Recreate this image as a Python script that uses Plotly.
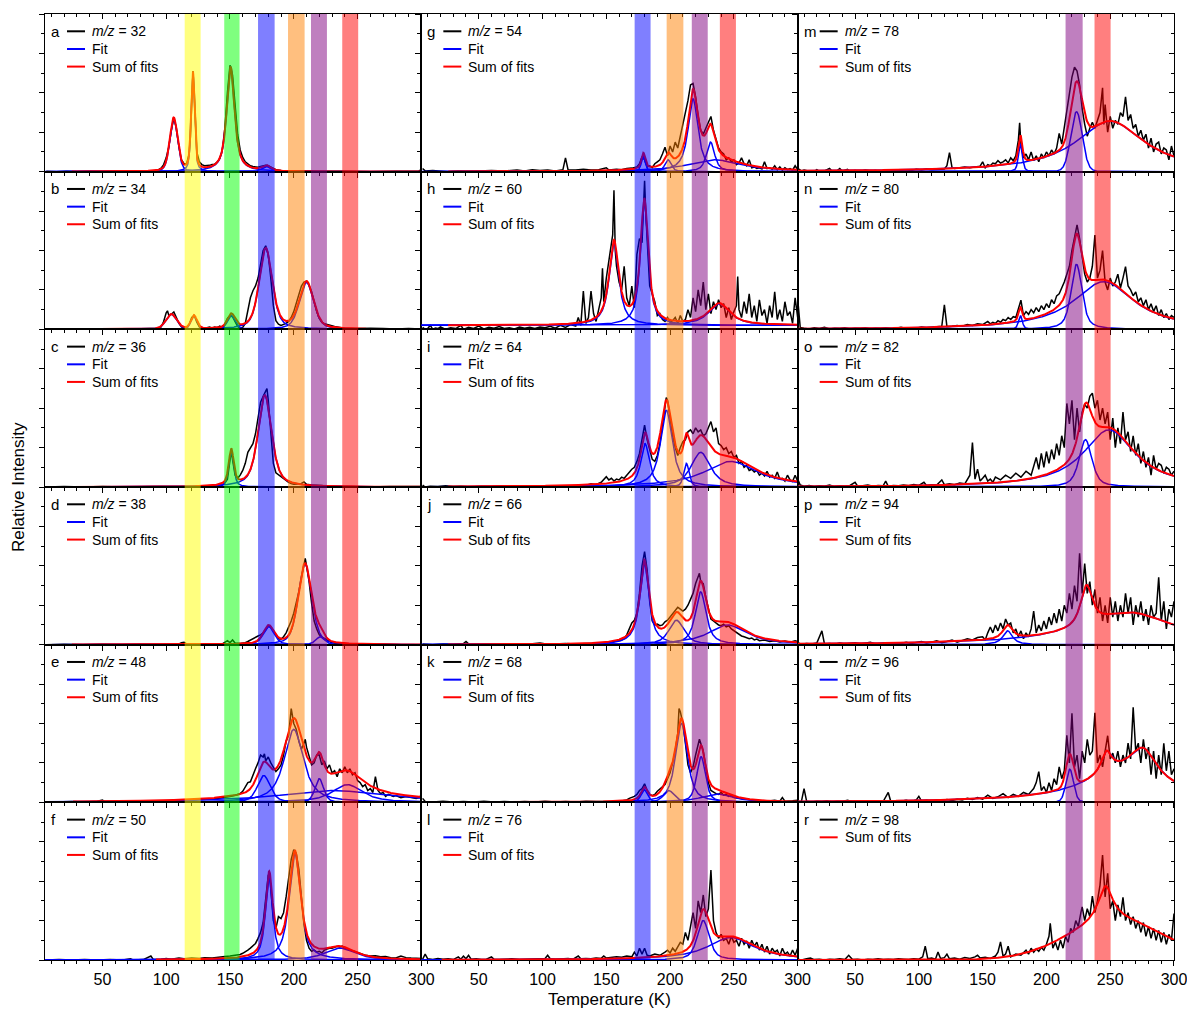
import numpy as np
import plotly.graph_objects as go

# ---------------------------------------------------------------------------
# Panel labels (column-major: a-f, g-l, m-r)
# ---------------------------------------------------------------------------
LETTERS = ["a", "b", "c", "d", "e", "f", "g", "h", "i",
           "j", "k", "l", "m", "n", "o", "p", "q", "r"]
MZ = [32, 34, 36, 38, 48, 50, 54, 60, 64, 66, 68, 76, 78, 80, 82, 94, 96, 98]
SUM_LABELS = ["Sum of fits", "Sum of fits", "Sum of fits", "Sum of fits",
              "Sum of fits", "Sum of fits", "Sum of fits", "Sum of fits",
              "Sum of fits", "Sub of fits", "Sum of fits", "Sum of fits",
              "Sum of fits", "Sum of fits", "Sum of fits", "Sum of fits",
              "Sum of fits", "Sum of fits"]
SHOW_FIT = [True] * 17 + [False]

# temperature where the summed fit starts, and constant background of the fit
FIT_START = [26, 26, 26, 26, 27, 92, 26, 26, 26, 26, 26, 21, 5, 5, 5, 5, 5, 5]
FIT_OFFSET = [0, 0, 0, 0, 0, 0, 0, 0.1, 0, 0, 0, 0, 0, 0, 0, 0, 0, 0]

# desorption bands (K) per column
BANDS_COL1 = [(114.5, 127.0, "#ffff00"), (145.5, 157.5, "#00ff00"),
              (172.0, 185.0, "#0000ff"), (195.5, 208.5, "#ff8000"),
              (213.5, 226.0, "#800080"), (238.0, 250.5, "#ff0000")]
BANDS_COL2 = [(172.2, 184.7, "#0000ff"), (197.3, 210.4, "#ff8000"),
              (217.0, 229.5, "#800080"), (239.0, 251.6, "#ff0000")]
BANDS_COL3 = [(215.0, 228.4, "#800080"), (237.7, 250.3, "#ff0000")]

# ---------------------------------------------------------------------------
# Measured TPD traces: (temperature K, relative intensity)
# ---------------------------------------------------------------------------
SCAN_A = [(6,0.01),(14,0.0),(22,0.01),(30,0.0),(40,0.01),(50,0.0),(60,0.01),(70,0.0),(80,0.01),(88,0.01),
          (92,0.03),(94,0.05),(96,0.09),(98,0.18),(100,0.35),(102,0.62),(104,1.05),(106,1.36),(108,1.1),(110,0.62),
          (112,0.3),(114,0.2),(116,0.2),(118,0.45),(119,0.9),(120,2.0),(121,2.55),(122,2.0),(123,1.0),(124,0.5),
          (126,0.25),(128,0.18),(130,0.15),(132,0.15),(134,0.16),(136,0.18),(138,0.19),(140,0.24),(142,0.33),(144,0.55),
          (146,1.1),(148,2.0),(150,2.7),(152,2.45),(154,1.6),(156,0.95),(158,0.55),(160,0.36),(162,0.25),(164,0.19),
          (166,0.15),(168,0.13),(170,0.12),(172,0.11),(174,0.13),(176,0.14),(178,0.16),(180,0.15),(182,0.12),(184,0.08),
          (186,0.05),(190,0.03),(200,0.02),(220,0.01),(240,0.01),(260,0.0),(280,0.01),(298,0.02),(300,0.05)]
SCAN_B = [(6,0.0),(16,0.01),(26,0.0),(36,0.01),(46,0.0),(56,0.01),(66,0.0),(76,0.01),(86,0.01),(92,0.02),
          (94,0.03),(96,0.06),(98,0.2),(100,0.42),(101,0.47),(102,0.36),(104,0.38),(106,0.44),(108,0.3),(110,0.15),
          (112,0.06),(114,0.03),(116,0.04),(118,0.12),(120,0.3),(122,0.35),(124,0.18),(126,0.06),(128,0.03),(130,0.02),
          (132,0.04),(134,0.06),(136,0.03),(138,0.06),(140,0.04),(142,0.08),(144,0.04),(146,0.12),(148,0.28),(150,0.35),
          (152,0.32),(154,0.2),(156,0.07),(158,0.03),(160,0.05),(162,0.15),(164,0.45),(166,0.8),(168,0.98),(170,1.1),
          (172,1.3),(174,1.7),(176,2.0),(178,2.12),(180,1.9),(182,1.3),(184,0.6),(186,0.22),(188,0.13),(190,0.1),
          (192,0.12),(194,0.15),(196,0.2),(198,0.3),(200,0.45),(202,0.65),(204,0.9),(206,1.1),(208,1.2),(210,1.22),
          (212,1.12),(214,0.95),(216,0.7),(218,0.45),(220,0.28),(222,0.18),(224,0.14),(226,0.12),(228,0.1),(230,0.09),
          (232,0.07),(236,0.05),(240,0.03),(250,0.02),(260,0.03),(270,0.02),(280,0.01),(290,0.02),(300,0.01)]
SCAN_C = [(6,0.0),(20,0.01),(35,0.0),(50,0.01),(65,0.0),(80,0.01),(95,0.01),(110,0.01),(125,0.02),(135,0.02),
          (140,0.03),(144,0.05),(146,0.1),(148,0.2),(150,0.7),(151,0.92),(152,0.7),(154,0.3),(156,0.22),(158,0.3),
          (160,0.42),(162,0.6),(164,0.88),(166,0.98),(168,1.1),(170,1.35),(172,1.8),(174,2.15),(176,2.3),(178,2.42),
          (179,2.5),(180,2.2),(182,1.4),(184,0.6),(186,0.36),(188,0.31),(190,0.28),(192,0.22),(194,0.16),(196,0.12),
          (198,0.09),(200,0.07),(202,0.07),(204,0.08),(206,0.09),(208,0.13),(210,0.07),(214,0.05),(218,0.05),(222,0.04),
          (226,0.02),(232,0.01),(245,0.01),(260,0.0),(275,0.01),(290,0.0),(300,0.01)]
SCAN_D = [(6,0.0),(20,0.01),(35,0.0),(50,0.01),(65,0.0),(80,0.01),(95,0.0),(105,0.01),(110,0.02),(112,0.05),
          (114,0.06),(116,0.02),(122,0.01),(130,0.02),(138,0.01),(144,0.02),(148,0.1),(150,0.05),(152,0.12),(154,0.04),
          (158,0.03),(162,0.05),(164,0.08),(166,0.12),(168,0.15),(170,0.18),(172,0.22),(174,0.25),(176,0.3),(178,0.38),
          (180,0.47),(182,0.45),(184,0.35),(186,0.22),(188,0.15),(190,0.14),(192,0.2),(194,0.3),(196,0.45),(198,0.6),
          (200,0.8),(202,1.05),(204,1.35),(206,1.7),(208,2.1),(209,2.19),(210,2.0),(212,1.6),(214,1.05),(216,0.6),
          (218,0.4),(220,0.25),(222,0.2),(224,0.15),(226,0.12),(228,0.08),(230,0.05),(234,0.03),(240,0.01),(255,0.0),
          (270,0.01),(285,0.0),(300,0.0)]
SCAN_E = [(6,0.0),(16,0.01),(26,0.02),(36,0.01),(46,0.03),(50,0.06),(52,0.02),(62,0.02),(72,0.03),(82,0.03),
          (92,0.04),(102,0.04),(112,0.05),(122,0.06),(132,0.08),(140,0.1),(146,0.12),(150,0.15),(154,0.18),(156,0.2),
          (158,0.22),(160,0.28),(162,0.4),(164,0.5),(166,0.52),(168,0.7),(170,0.85),(172,1.0),(174,1.2),(176,1.15),
          (177,1.23),(178,1.05),(180,1.15),(182,1.0),(184,0.9),(186,0.78),(188,0.85),(190,0.95),(192,1.2),(194,1.55),
          (196,1.7),(198,2.38),(200,2.0),(202,1.85),(204,1.55),(206,1.35),(208,1.5),(209,1.6),(210,1.4),(212,1.2),
          (214,0.95),(216,1.0),(218,1.2),(220,1.2),(222,0.95),(224,1.05),(226,0.85),(228,0.95),(230,0.75),(232,0.8),
          (234,0.65),(236,0.85),(238,0.75),(240,0.9),(242,0.75),(244,0.85),(246,0.7),(248,0.75),(250,0.55),(252,0.5),
          (254,0.4),(256,0.45),(258,0.3),(260,0.35),(262,0.25),(264,0.65),(266,0.3),(268,0.22),(270,0.25),(272,0.15),
          (274,0.2),(276,0.18),(278,0.15),(280,0.17),(284,0.12),(288,0.15),(292,0.12),(296,0.1),(298,0.12),(300,0.18)]
SCAN_F = [(6,0.0),(16,0.01),(26,0.0),(36,0.01),(46,0.0),(56,0.01),(66,0.0),(72,0.03),(74,0.0),(82,0.01),
          (88,0.1),(90,0.01),(96,0.02),(100,0.04),(104,0.02),(110,0.05),(114,0.03),(120,0.05),(126,0.04),(130,0.06),
          (136,0.05),(140,0.07),(146,0.09),(150,0.1),(154,0.12),(158,0.14),(160,0.17),(162,0.2),(164,0.25),(166,0.3),
          (168,0.35),(170,0.42),(172,0.55),(174,0.7),(176,0.95),(178,1.5),(180,2.15),(181,2.2),(182,1.8),(184,1.0),
          (186,0.8),(188,1.1),(190,1.05),(192,1.2),(194,1.6),(196,2.1),(198,2.55),(200,2.8),(202,2.7),(204,2.3),
          (206,1.6),(208,0.9),(210,0.5),(212,0.3),(214,0.22),(216,0.25),(218,0.2),(220,0.22),(222,0.18),(224,0.25),
          (226,0.28),(228,0.3),(230,0.3),(232,0.32),(234,0.35),(236,0.33),(238,0.35),(240,0.3),(244,0.25),(248,0.2),
          (252,0.15),(256,0.12),(260,0.1),(264,0.11),(268,0.08),(272,0.09),(276,0.06),(280,0.05),(284,0.1),(288,0.06),
          (292,0.05),(296,0.04),(300,0.04)]
SCAN_G = [(6,0.08),(8,0.02),(14,0.03),(20,0.02),(26,0.0),(34,0.02),(40,0.01),(50,0.02),(60,0.03),(70,0.02),
          (80,0.04),(86,0.02),(92,0.05),(98,0.03),(104,0.04),(110,0.02),(116,0.05),(118,0.35),(120,0.05),(126,0.04),
          (132,0.06),(138,0.04),(144,0.05),(150,0.1),(152,0.04),(158,0.06),(162,0.05),(166,0.08),(170,0.09),(174,0.12),
          (176,0.2),(178,0.38),(180,0.3),(182,0.12),(184,0.15),(186,0.1),(188,0.2),(190,0.25),(192,0.3),(194,0.45),
          (196,0.62),(198,0.4),(200,0.65),(202,0.5),(204,0.75),(206,0.6),(208,0.9),(210,1.2),(212,1.5),(214,1.8),
          (216,2.2),(218,2.24),(220,1.9),(222,1.4),(224,1.05),(226,0.95),(228,1.1),(230,1.25),(232,1.4),(234,1.05),
          (236,0.8),(238,0.6),(240,0.5),(242,0.45),(244,0.3),(246,0.35),(248,0.25),(250,0.3),(252,0.18),(254,0.22),
          (256,0.35),(258,0.2),(260,0.15),(262,0.3),(264,0.1),(266,0.12),(268,0.08),(270,0.1),(272,0.07),(274,0.25),
          (276,0.08),(278,0.1),(280,0.06),(282,0.15),(284,0.05),(286,0.12),(288,0.04),(290,0.1),(292,0.05),(294,0.08),
          (296,0.04),(298,0.15),(300,0.05)]
SCAN_H = [(6,0.05),(8,0.0),(10,0.02),(12,0.1),(14,0.0),(16,0.03),(18,0.02),(20,0.06),(24,0.0),(28,0.04),
          (32,0.02),(36,0.1),(38,0.0),(42,0.05),(46,0.02),(50,0.08),(54,0.01),(58,0.05),(62,0.03),(66,0.07),
          (70,0.02),(74,0.04),(78,0.01),(82,0.06),(86,0.03),(90,0.05),(94,0.02),(98,0.06),(102,0.04),(106,0.08),
          (110,0.03),(114,0.1),(118,0.05),(122,0.12),(126,0.08),(128,0.3),(130,0.1),(132,0.97),(134,0.15),(136,0.3),
          (138,0.97),(140,0.4),(142,0.2),(144,0.55),(146,0.8),(147,1.55),(148,0.7),(150,1.3),(152,1.7),(154,2.1),
          (155,2.4),(156,3.53),(157,2.0),(158,1.6),(160,1.2),(162,1.0),(164,1.6),(166,0.8),(168,0.6),(170,1.1),
          (172,0.55),(174,1.9),(176,2.3),(178,2.2),(179,3.2),(180,3.77),(181,2.9),(182,2.2),(184,1.1),(186,0.9),
          (188,0.7),(190,0.35),(192,0.4),(194,0.25),(196,0.2),(198,0.3),(200,0.18),(202,0.22),(204,0.3),(206,0.15),
          (208,0.35),(210,0.2),(212,0.25),(214,0.5),(216,0.3),(218,0.8),(220,0.45),(222,1.0),(224,0.6),(226,1.2),
          (228,0.5),(230,0.9),(232,0.4),(234,0.7),(236,0.5),(238,0.75),(240,0.55),(242,0.65),(244,0.3),(246,0.55),
          (248,0.25),(250,0.45),(252,0.6),(253,1.34),(254,0.5),(256,0.3),(258,0.7),(260,0.4),(262,0.9),(264,0.3),
          (266,0.6),(268,0.2),(270,0.75),(272,0.35),(274,0.5),(276,0.15),(278,0.6),(280,0.3),(282,0.95),(284,0.25),
          (286,0.5),(288,0.2),(290,0.7),(292,0.35),(294,0.45),(296,0.15),(298,0.8),(300,0.3)]
SCAN_I = [(6,0.05),(8,0.0),(12,0.02),(18,0.01),(24,0.03),(30,0.01),(36,0.02),(44,0.0),(52,0.02),(60,0.01),
          (68,0.03),(76,0.01),(84,0.02),(92,0.01),(100,0.03),(108,0.02),(116,0.03),(124,0.04),(130,0.05),(134,0.04),
          (138,0.08),(142,0.06),(146,0.12),(148,0.2),(150,0.26),(152,0.18),(154,0.22),(156,0.15),(158,0.2),(160,0.18),
          (162,0.25),(164,0.22),(166,0.3),(168,0.35),(170,0.45),(172,0.5),(174,0.65),(176,0.85),(178,1.2),(180,1.57),
          (182,1.2),(184,0.95),(186,0.7),(188,0.65),(190,0.8),(192,1.1),(194,1.6),(196,2.15),(197,2.27),(198,2.2),
          (200,1.7),(202,1.3),(204,1.0),(206,0.8),(208,1.0),(210,1.15),(212,1.2),(214,1.4),(216,1.45),(218,1.35),
          (220,1.5),(222,1.4),(224,1.45),(226,1.3),(228,1.35),(230,1.5),(232,1.66),(234,1.4),(236,1.5),(238,1.1),
          (240,1.05),(242,0.95),(244,1.0),(246,0.85),(248,0.9),(250,0.75),(252,0.8),(254,0.6),(256,0.65),(258,0.5),
          (260,0.55),(262,0.42),(264,0.45),(266,0.38),(268,0.42),(270,0.3),(272,0.35),(274,0.28),(276,0.4),(278,0.25),
          (280,0.3),(282,0.22),(284,0.38),(286,0.2),(288,0.22),(290,0.15),(292,0.3),(294,0.18),(296,0.14),(298,0.3),
          (300,0.15)]
SCAN_J = [(6,0.02),(14,0.0),(22,0.02),(30,0.01),(38,0.03),(40,0.08),(42,0.02),(50,0.01),(58,0.02),(66,0.01),
          (74,0.02),(82,0.01),(90,0.02),(98,0.04),(104,0.01),(110,0.02),(118,0.03),(126,0.02),(134,0.03),(142,0.04),
          (148,0.06),(152,0.05),(156,0.08),(160,0.1),(162,0.12),(164,0.15),(166,0.25),(168,0.4),(170,0.55),(172,0.62),
          (174,0.8),(176,1.3),(178,2.0),(180,2.36),(182,1.9),(184,1.1),(186,0.6),(188,0.5),(190,0.52),(192,0.48),
          (194,0.5),(196,0.58),(198,0.62),(200,0.7),(202,0.78),(204,0.85),(206,0.95),(208,0.9),(210,0.85),(212,0.9),
          (214,1.0),(216,1.15),(218,1.3),(220,1.55),(222,1.7),(223,1.81),(224,1.6),(226,1.55),(228,1.2),(230,0.9),
          (232,0.65),(234,0.6),(236,0.55),(238,0.5),(240,0.48),(242,0.52),(244,0.45),(246,0.48),(248,0.4),(250,0.35),
          (252,0.3),(254,0.25),(256,0.22),(258,0.2),(260,0.18),(262,0.15),(264,0.17),(266,0.12),(268,0.14),(270,0.1),
          (274,0.12),(278,0.08),(282,0.1),(286,0.07),(290,0.09),(294,0.06),(298,0.1),(300,0.08)]
SCAN_K = [(6,0.1),(8,0.02),(14,0.01),(22,0.03),(30,0.01),(38,0.02),(46,0.01),(54,0.03),(62,0.01),(70,0.02),
          (78,0.01),(86,0.02),(94,0.01),(102,0.03),(110,0.01),(118,0.02),(126,0.01),(134,0.03),(142,0.02),(150,0.03),
          (156,0.02),(160,0.03),(164,0.05),(166,0.06),(168,0.1),(170,0.12),(172,0.15),(174,0.2),(176,0.3),(178,0.35),
          (180,0.47),(182,0.3),(184,0.2),(186,0.17),(188,0.2),(190,0.28),(192,0.33),(194,0.4),(196,0.45),(198,0.6),
          (200,0.75),(202,1.0),(204,1.3),(206,1.75),(207,2.38),(208,2.3),(210,2.0),(212,1.5),(214,0.95),(216,0.75),
          (218,0.9),(220,1.2),(222,1.45),(223,1.6),(224,1.5),(226,1.3),(228,0.9),(230,0.5),(232,0.3),(234,0.25),
          (236,0.22),(238,0.2),(240,0.25),(242,0.18),(244,0.2),(246,0.15),(248,0.17),(250,0.12),(254,0.1),(258,0.08),
          (262,0.06),(266,0.05),(270,0.04),(276,0.03),(282,0.05),(286,0.03),(288,0.12),(290,0.03),(296,0.04),(300,0.05)]
SCAN_L = [(6,0.02),(8,0.15),(10,0.03),(14,0.01),(18,0.04),(22,0.02),(26,0.03),(30,0.01),(34,0.08),(36,0.02),
          (38,0.1),(40,0.03),(42,0.12),(44,0.02),(48,0.03),(52,0.01),(56,0.02),(60,0.08),(62,0.02),(66,0.01),
          (70,0.02),(76,0.03),(82,0.01),(88,0.02),(94,0.03),(98,0.02),(102,0.04),(104,0.12),(106,0.03),(110,0.02),
          (116,0.03),(120,0.04),(124,0.02),(128,0.1),(130,0.03),(134,0.04),(138,0.03),(142,0.05),(146,0.04),(148,0.1),
          (150,0.05),(154,0.06),(158,0.08),(162,0.07),(166,0.1),(170,0.08),(172,0.2),(174,0.1),(176,0.3),(178,0.15),
          (180,0.3),(182,0.12),(184,0.1),(188,0.15),(192,0.12),(196,0.2),(198,0.25),(200,0.18),(202,0.3),(204,0.22),
          (206,0.35),(208,0.45),(210,0.4),(212,0.7),(214,0.5),(216,0.9),(218,1.2),(220,0.8),(222,1.5),(224,1.2),
          (226,1.65),(228,1.1),(230,1.3),(232,2.28),(234,1.0),(236,0.7),(238,0.55),(240,0.65),(242,0.5),(244,0.55),
          (246,0.4),(248,0.6),(250,0.45),(252,0.5),(254,0.35),(256,0.55),(258,0.4),(260,0.48),(262,0.3),(264,0.5),
          (266,0.35),(268,0.45),(270,0.25),(272,0.4),(274,0.2),(276,0.35),(278,0.15),(280,0.3),(282,0.2),(284,0.25),
          (286,0.1),(288,0.3),(290,0.15),(292,0.2),(294,0.1),(296,0.25),(298,0.12),(300,0.3)]
SCAN_M = [(5,0.08),(8,0.02),(10,0.04),(14,0.01),(18,0.0),(20,0.05),(22,0.01),(26,0.02),(30,0.08),(32,0.01),
          (36,0.03),(38,0.08),(40,0.01),(44,0.06),(46,0.01),(50,0.03),(54,0.01),(58,0.04),(62,0.02),(66,0.03),
          (70,0.01),(74,0.03),(78,0.02),(82,0.04),(86,0.03),(90,0.05),(94,0.03),(98,0.06),(102,0.04),(106,0.07),
          (110,0.05),(114,0.06),(118,0.08),(120,0.07),(122,0.15),(124,0.48),(126,0.1),(128,0.08),(132,0.1),(136,0.12),
          (140,0.1),(144,0.12),(148,0.14),(150,0.25),(152,0.1),(154,0.18),(156,0.15),(158,0.22),(160,0.2),(162,0.28),
          (164,0.22),(166,0.25),(168,0.3),(170,0.22),(172,0.35),(174,0.28),(176,0.4),(178,0.8),(179,1.24),(180,0.7),
          (182,0.35),(184,0.45),(186,0.3),(188,0.5),(190,0.28),(192,0.4),(194,0.25),(196,0.45),(198,0.35),(200,0.5),
          (202,0.4),(204,0.55),(206,0.45),(208,0.6),(210,0.97),(212,0.7),(214,1.1),(216,1.5),(218,1.9),(220,2.4),
          (222,2.65),(224,2.55),(226,2.2),(228,1.6),(230,1.2),(232,0.9),(234,1.1),(236,1.25),(238,1.1),(240,1.3),
          (242,1.5),(244,2.13),(245,1.2),(246,1.7),(248,1.0),(250,1.4),(252,1.1),(254,1.3),(256,1.2),(258,1.5),
          (260,1.4),(262,1.9),(264,1.3),(266,1.45),(268,1.1),(270,1.2),(272,0.9),(274,1.05),(276,0.8),(278,0.95),
          (280,0.6),(282,0.85),(284,0.5),(286,0.7),(288,0.75),(290,0.45),(292,0.6),(294,0.55),(296,0.3),(298,0.65),
          (300,0.4)]
SCAN_N = [(5,0.78),(7,0.05),(10,0.03),(14,0.01),(18,0.04),(22,0.02),(26,0.05),(30,0.01),(34,0.03),(38,0.02),
          (42,0.04),(46,0.01),(50,0.03),(54,0.02),(58,0.04),(62,0.01),(66,0.03),(70,0.02),(74,0.04),(78,0.02),
          (82,0.03),(86,0.05),(90,0.02),(94,0.04),(98,0.03),(102,0.06),(106,0.04),(110,0.05),(114,0.06),(118,0.08),
          (120,0.62),(122,0.07),(126,0.08),(130,0.1),(134,0.08),(138,0.12),(142,0.1),(146,0.14),(150,0.12),(154,0.2),
          (156,0.14),(158,0.18),(160,0.15),(162,0.22),(164,0.18),(166,0.25),(168,0.22),(170,0.3),(172,0.25),(174,0.32),
          (176,0.3),(178,0.5),(180,0.74),(182,0.35),(184,0.45),(186,0.38),(188,0.5),(190,0.42),(192,0.55),(194,0.45),
          (196,0.6),(198,0.5),(200,0.65),(202,0.55),(204,0.75),(206,0.65),(208,0.85),(210,0.9),(212,1.05),(214,1.2),
          (216,1.4),(218,1.6),(220,2.0),(222,2.3),(224,2.65),(226,2.3),(228,1.8),(230,1.4),(232,1.2),(234,1.3),
          (236,1.6),(238,2.39),(240,1.3),(242,1.5),(244,2.0),(246,1.2),(248,1.0),(250,1.3),(252,1.1),(254,1.2),
          (256,1.4),(258,1.05),(260,1.3),(262,1.59),(264,1.1),(266,1.0),(268,0.85),(270,0.95),(272,0.7),(274,0.8),
          (276,0.6),(278,0.75),(280,0.5),(282,0.65),(284,0.45),(286,0.6),(288,0.35),(290,0.5),(292,0.3),(294,0.4),
          (296,0.25),(298,0.35),(300,0.3)]
SCAN_O = [(5,0.2),(7,0.05),(10,0.02),(14,0.04),(18,0.01),(22,0.03),(26,0.02),(30,0.05),(34,0.01),(38,0.03),
          (42,0.02),(46,0.04),(50,0.12),(52,0.02),(56,0.03),(60,0.05),(64,0.02),(68,0.04),(72,0.03),(74,0.15),
          (76,0.02),(80,0.04),(84,0.03),(88,0.05),(92,0.03),(96,0.06),(100,0.04),(104,0.12),(106,0.04),(110,0.06),
          (114,0.05),(118,0.18),(120,0.06),(124,0.08),(128,0.06),(132,0.1),(136,0.08),(140,0.3),(142,1.13),(144,0.2),
          (146,0.45),(148,0.15),(150,0.22),(152,0.3),(154,0.15),(156,0.2),(158,0.12),(160,0.25),(164,0.18),(168,0.3),
          (172,0.22),(176,0.35),(180,0.25),(184,0.4),(188,0.3),(190,0.55),(192,0.75),(194,0.45),(196,0.85),(198,0.5),
          (200,0.9),(202,0.6),(204,0.95),(206,0.7),(208,1.1),(210,0.8),(212,1.3),(214,1.0),(216,2.12),(218,1.6),
          (220,2.2),(222,1.2),(224,2.0),(226,1.4),(228,1.9),(230,2.1),(232,2.0),(234,2.3),(236,2.38),(238,2.0),
          (240,2.2),(242,1.7),(244,2.0),(246,1.6),(248,1.9),(250,1.2),(252,1.75),(254,1.0),(256,1.5),(258,1.1),
          (260,1.9),(262,1.2),(264,1.4),(266,0.9),(268,1.3),(270,0.8),(272,1.1),(274,0.6),(276,0.9),(278,0.5),
          (280,0.75),(282,0.3),(284,0.8),(286,0.45),(288,0.6),(290,0.55),(292,0.35),(294,0.5),(296,0.45),(298,0.3),
          (300,0.4)]
SCAN_P = [(5,0.05),(8,0.01),(12,0.03),(16,0.02),(20,0.04),(24,0.35),(26,0.02),(30,0.03),(34,0.01),(38,0.04),
          (42,0.02),(46,0.03),(50,0.05),(54,0.02),(58,0.04),(62,0.06),(66,0.02),(70,0.03),(74,0.05),(78,0.02),
          (82,0.04),(86,0.03),(90,0.06),(94,0.03),(98,0.05),(102,0.08),(106,0.04),(110,0.06),(114,0.1),(118,0.05),
          (122,0.08),(126,0.12),(130,0.06),(134,0.1),(138,0.15),(142,0.12),(146,0.18),(150,0.2),(152,0.12),(154,0.3),
          (156,0.45),(158,0.3),(160,0.5),(162,0.35),(164,0.55),(166,0.4),(168,0.65),(170,0.5),(172,0.55),(174,0.3),
          (176,0.4),(178,0.2),(180,0.35),(182,0.15),(184,0.3),(186,0.2),(188,0.4),(190,0.85),(192,0.3),(194,0.5),
          (196,0.35),(198,0.6),(200,0.4),(202,0.7),(204,0.5),(206,0.8),(208,0.55),(210,0.9),(212,0.6),(214,1.0),
          (216,0.8),(218,1.3),(220,0.9),(222,1.5),(224,1.1),(226,2.32),(228,1.3),(230,2.06),(232,1.3),(234,1.6),
          (236,1.0),(238,1.4),(240,0.8),(242,1.2),(244,0.6),(246,1.0),(248,0.55),(250,1.2),(252,0.7),(254,1.1),
          (256,0.6),(258,1.0),(260,0.7),(262,1.3),(264,0.8),(266,1.2),(268,0.5),(270,1.0),(272,0.7),(274,1.1),
          (276,0.6),(278,0.9),(280,0.5),(282,1.0),(284,0.7),(286,0.8),(288,1.71),(290,0.6),(292,1.1),(294,0.4),
          (296,0.9),(298,0.7),(300,1.1)]
SCAN_Q = [(5,0.02),(8,0.03),(10,0.35),(12,0.03),(16,0.01),(20,0.03),(24,0.02),(28,0.04),(32,0.01),(36,0.03),
          (40,0.02),(44,0.05),(48,0.02),(52,0.03),(56,0.01),(60,0.04),(64,0.02),(68,0.03),(72,0.02),(76,0.25),
          (78,0.02),(82,0.04),(86,0.03),(90,0.05),(94,0.02),(98,0.06),(100,0.15),(102,0.04),(106,0.05),(110,0.03),
          (114,0.06),(118,0.04),(122,0.07),(126,0.05),(130,0.08),(134,0.06),(138,0.1),(142,0.07),(146,0.12),(150,0.08),
          (154,0.18),(158,0.1),(162,0.14),(166,0.22),(170,0.12),(174,0.2),(178,0.15),(182,0.25),(186,0.2),(190,0.35),
          (192,0.5),(194,0.78),(196,0.3),(198,0.4),(200,0.25),(202,0.5),(204,0.3),(206,0.6),(208,0.45),(210,0.9),
          (212,0.6),(214,0.8),(216,1.7),(218,1.0),(220,2.26),(222,0.9),(224,1.2),(226,0.6),(228,1.3),(230,1.0),
          (232,1.6),(234,1.2),(236,1.3),(238,2.27),(240,1.0),(242,1.2),(244,0.9),(246,1.3),(248,1.69),(250,1.1),
          (252,1.25),(254,1.0),(256,1.3),(258,0.9),(260,1.2),(262,1.0),(264,1.5),(266,1.1),(268,2.41),(270,1.3),
          (272,1.5),(274,1.0),(276,1.6),(278,1.1),(280,1.4),(282,0.7),(284,1.3),(286,0.6),(288,1.2),(290,0.7),
          (292,1.5),(294,0.8),(296,1.3),(298,0.7),(300,0.85)]
SCAN_R = [(5,0.02),(8,0.0),(12,0.03),(15,0.05),(18,0.01),(22,0.02),(26,0.0),(30,0.02),(34,0.01),(38,0.03),
          (42,0.01),(45,0.12),(48,0.01),(52,0.02),(56,0.0),(60,0.02),(64,0.01),(68,0.03),(72,0.01),(76,0.02),
          (80,0.01),(84,0.03),(88,0.02),(92,0.01),(96,0.03),(100,0.02),(103,0.08),(105,0.35),(107,0.03),(110,0.05),
          (113,0.02),(115,0.2),(117,0.04),(120,0.06),(122,0.15),(124,0.03),(128,0.05),(132,0.02),(136,0.06),(140,0.04),
          (144,0.08),(146,0.12),(148,0.05),(152,0.07),(156,0.04),(160,0.1),(162,0.2),(164,0.46),(166,0.1),(168,0.15),
          (170,0.35),(172,0.08),(176,0.15),(180,0.12),(184,0.25),(186,0.15),(188,0.3),(190,0.2),(192,0.28),(194,0.22),
          (196,0.32),(198,0.25),(200,0.4),(202,0.6),(203,0.93),(205,0.3),(207,0.45),(209,0.25),(211,0.5),(213,0.3),
          (215,0.6),(217,0.45),(219,0.8),(221,0.7),(223,1.0),(225,0.85),(227,1.2),(228,1.35),(230,1.0),(232,1.3),
          (234,1.1),(236,1.62),(238,1.2),(240,1.5),(242,1.9),(244,2.66),(246,1.6),(248,2.2),(250,1.3),(252,1.5),
          (254,1.0),(256,1.4),(258,1.1),(260,1.59),(262,1.0),(264,1.2),(266,0.9),(268,1.1),(270,0.8),(272,1.0),
          (274,0.7),(276,0.95),(278,0.6),(280,0.85),(282,0.55),(284,0.8),(286,0.5),(288,0.75),(290,0.45),(292,0.7),
          (294,0.4),(296,0.65),(298,0.5),(300,1.18)]

# ---------------------------------------------------------------------------
# Fitted peaks: (centre K, height, half width K, Lorentzian fraction)
# ---------------------------------------------------------------------------
PEAKS_A = [(105.9, 1.35, 3.6, 0.3), (120.9, 2.5, 1.6, 0.5), (150.5, 2.66, 3.6, 0.8), (178.6, 0.13, 4.0, 0.5)]
PEAKS_B = [(104.0, 0.38, 5.0, 0.2), (121.7, 0.34, 2.8, 0.3), (151.0, 0.35, 3.5, 0.3),
           (178.0, 2.05, 6.0, 0.5), (210.0, 1.19, 6.5, 0.4)]
PEAKS_C = [(151.0, 0.9, 2.3, 0.6), (177.3, 2.33, 6.3, 0.6)]
PEAKS_D = [(180.4, 0.46, 5.0, 0.5), (208.8, 2.05, 6.2, 0.4), (220.6, 0.2, 4.0, 0.5)]
PEAKS_E = [(176.5, 0.68, 6.0, 0.5), (200.0, 1.85, 9.0, 0.8), (220.0, 0.6, 4.0, 0.4),
           (242.0, 0.45, 14.0, 0.8), (230.0, 0.3, 50.0, 1.0)]
PEAKS_F = [(180.7, 2.1, 3.4, 0.8), (200.9, 2.7, 5.3, 0.8), (236.4, 0.3, 14.0, 0.7)]
PEAKS_G = [(179.0, 0.4, 1.8, 0.6), (198.4, 0.3, 3.0, 0.5), (218.0, 1.85, 4.6, 0.9),
           (231.7, 0.75, 3.8, 0.7), (235.0, 0.3, 25.0, 1.0)]
PEAKS_H = [(156.0, 2.1, 4.5, 0.9), (179.8, 3.15, 3.6, 0.9), (238.5, 0.55, 10.0, 0.9)]
PEAKS_I = [(180.4, 1.1, 4.0, 0.9), (197.1, 1.95, 5.5, 0.9), (212.8, 0.6, 2.5, 0.5),
           (224.0, 0.88, 9.0, 0.8), (247.6, 0.65, 25.0, 1.0)]
PEAKS_J = [(179.8, 2.08, 4.2, 1.0), (205.0, 0.62, 7.0, 0.7), (224.0, 1.34, 5.0, 0.8), (245.0, 0.5, 18.0, 1.0)]
PEAKS_K = [(179.8, 0.32, 3.0, 0.6), (199.0, 0.3, 5.0, 0.5), (208.9, 2.0, 5.5, 0.7),
           (224.3, 1.16, 4.0, 0.6), (237.0, 0.21, 15.0, 1.0)]
PEAKS_L = [(226.0, 1.0, 5.5, 0.6), (247.6, 0.57, 22.0, 1.0)]
PEAKS_M = [(179.6, 0.7, 1.8, 0.5), (223.6, 1.52, 5.3, 0.1), (250.0, 1.28, 32.5, 1.0)]
PEAKS_N = [(179.6, 0.35, 1.8, 0.5), (223.6, 1.65, 5.0, 0.6), (245.0, 1.21, 28.8, 1.0)]
PEAKS_O = [(230.6, 1.2, 5.9, 0.6), (249.0, 1.45, 24.7, 1.0)]
PEAKS_P = [(169.6, 0.35, 4.5, 0.9), (231.4, 1.0, 5.5, 0.8), (265.0, 0.8, 45.0, 1.0)]
PEAKS_Q = [(218.3, 0.84, 3.5, 0.2), (247.0, 0.55, 5.0, 1.0), (262.0, 0.75, 40.0, 1.0), (276.0, 0.7, 12.0, 1.0)]
PEAKS_R = [(246.3, 0.9, 7.0, 1.0), (255.0, 1.0, 44.7, 0.0)]

# which peaks are drawn together as one blue fit curve (default: one curve per peak)
FIT_GROUPS = {15: [[0], [1, 2]], 16: [[0], [1, 2, 3]]}

SCANS = [SCAN_A, SCAN_B, SCAN_C, SCAN_D, SCAN_E, SCAN_F, SCAN_G, SCAN_H, SCAN_I,
         SCAN_J, SCAN_K, SCAN_L, SCAN_M, SCAN_N, SCAN_O, SCAN_P, SCAN_Q, SCAN_R]
PEAKS = [PEAKS_A, PEAKS_B, PEAKS_C, PEAKS_D, PEAKS_E, PEAKS_F, PEAKS_G, PEAKS_H, PEAKS_I,
         PEAKS_J, PEAKS_K, PEAKS_L, PEAKS_M, PEAKS_N, PEAKS_O, PEAKS_P, PEAKS_Q, PEAKS_R]

X_RANGE = [5, 300]
Y_RANGE = [0, 4]
FONT = "Arial, Liberation Sans, sans-serif"


def pseudo_voigt(t, centre, height, hwhm, eta):
    x = (t - centre) / hwhm
    return height * (eta / (1.0 + x * x) + (1.0 - eta) * np.exp(-np.log(2.0) * x * x))


fig = go.Figure()
t_fine = np.arange(5.0, 300.001, 0.25)

NROW, NCOL = 6, 3


def ax_names(n):
    return ("x" if n == 1 else f"x{n}"), ("y" if n == 1 else f"y{n}")


for p in range(18):
    n = p + 1
    xa, ya = ax_names(n)
    temps = [s[0] for s in SCANS[p]]
    vals = [s[1] for s in SCANS[p]]
    fig.add_trace(go.Scatter(x=temps, y=vals, mode="lines", xaxis=xa, yaxis=ya,
                             line=dict(color="black", width=1.5),
                             showlegend=False, hoverinfo="skip"))
    base = FIT_OFFSET[p]
    if SHOW_FIT[p]:
        groups = FIT_GROUPS.get(p, [[k] for k in range(len(PEAKS[p]))])
        for grp in groups:
            curve = np.full_like(t_fine, base)
            for k in grp:
                curve = curve + pseudo_voigt(t_fine, *PEAKS[p][k])
            fig.add_trace(go.Scatter(x=t_fine, y=curve, mode="lines",
                                     xaxis=xa, yaxis=ya, line=dict(color="#0000ff", width=1.5),
                                     showlegend=False, hoverinfo="skip"))
    t_sum = t_fine[t_fine >= FIT_START[p]]
    total = np.full_like(t_sum, base)
    for pk in PEAKS[p]:
        total = total + pseudo_voigt(t_sum, *pk)
    fig.add_trace(go.Scatter(x=t_sum, y=total, mode="lines", xaxis=xa, yaxis=ya,
                             line=dict(color="#ff0000", width=2),
                             showlegend=False, hoverinfo="skip"))

layout = dict(
    width=1187, height=1012,
    margin=dict(l=45, r=13, t=14, b=52, autoexpand=False),
    paper_bgcolor="white", plot_bgcolor="white",
    font=dict(family=FONT, color="black", size=16),
    showlegend=False,
)

shapes = []
annotations = []

for p in range(18):
    n = p + 1
    col, row = p // NROW, p % NROW
    xdom = [col / NCOL, (col + 1) / NCOL]
    ydom = [1 - (row + 1) / NROW, 1 - row / NROW]
    xa, ya = ax_names(n)
    xkey = "xaxis" if n == 1 else f"xaxis{n}"
    ykey = "yaxis" if n == 1 else f"yaxis{n}"
    layout[xkey] = dict(
        domain=xdom, anchor=ya, range=X_RANGE, tick0=0, dtick=50, automargin=False,
        ticks="outside", ticklen=5, tickwidth=1, tickcolor="black",
        minor=dict(ticks="outside", dtick=10, tick0=0, ticklen=3, tickwidth=1, tickcolor="black"),
        showticklabels=(row == NROW - 1), tickfont=dict(size=16), ticklabeloverflow="allow",
        showline=True, linecolor="black", linewidth=1, mirror=True,
        showgrid=False, zeroline=False,
    )
    layout[ykey] = dict(
        domain=ydom, anchor=xa, range=Y_RANGE, tick0=0, dtick=1, automargin=False,
        ticks="outside", ticklen=5, tickwidth=1, tickcolor="black",
        minor=dict(ticks="outside", dtick=0.5, tick0=0, ticklen=3, tickwidth=1, tickcolor="black"),
        showticklabels=False,
        showline=True, linecolor="black", linewidth=1, mirror=True,
        showgrid=False, zeroline=False,
    )

    # in-panel legend
    xd, yd = f"{xa} domain", f"{ya} domain"
    rows_y = [1 - 17.3 / 157.7, 1 - 35.0 / 157.7, 1 - 52.6 / 157.7]
    lx0, lx1, tx = 22 / 376.3, 40 / 376.3, 45 / 376.3
    annotations.append(dict(text=LETTERS[p], xref=xd, yref=yd, x=4 / 376.3, y=rows_y[0],
                            xanchor="left", yanchor="middle", showarrow=False,
                            font=dict(size=15, family=FONT)))
    entries = [("black", f"<i>m/z</i> = {MZ[p]}")]
    if SHOW_FIT[p]:
        entries.append(("#0000ff", "Fit"))
    entries.append(("#ff0000", SUM_LABELS[p]))
    for k, (colr, label) in enumerate(entries):
        shapes.append(dict(type="line", xref=xd, yref=yd, x0=lx0, x1=lx1,
                           y0=rows_y[k], y1=rows_y[k], line=dict(color=colr, width=2), layer="above"))
        annotations.append(dict(text=label, xref=xd, yref=yd, x=tx, y=rows_y[k],
                                xanchor="left", yanchor="middle", showarrow=False,
                                font=dict(size=14, family=FONT)))

# inward ticks on the outer right and top edges
extra = 19
for row in range(NROW):
    n = 2 * NROW + row + 1
    xa, ya = ax_names(n)
    key = f"yaxis{extra}"
    layout[key] = dict(overlaying=ya, anchor=xa, side="right", range=Y_RANGE, tick0=0, dtick=1,
                       ticks="inside", ticklen=5, tickcolor="black", automargin=False,
                       minor=dict(ticks="inside", dtick=0.5, tick0=0, ticklen=3, tickcolor="black"),
                       showticklabels=False, showgrid=False, zeroline=False, showline=False)
    fig.add_trace(go.Scatter(x=[None], y=[None], xaxis=xa, yaxis=f"y{extra}",
                             showlegend=False, hoverinfo="skip"))
    extra += 1
xextra = 19
for col in range(NCOL):
    n = col * NROW + 1
    xa, ya = ax_names(n)
    key = f"xaxis{xextra}"
    layout[key] = dict(overlaying=xa, anchor=ya, side="top", range=X_RANGE, tick0=0, dtick=50,
                       ticks="inside", ticklen=5, tickcolor="black", automargin=False,
                       minor=dict(ticks="inside", dtick=10, tick0=0, ticklen=3, tickcolor="black"),
                       showticklabels=False, showgrid=False, zeroline=False, showline=False)
    fig.add_trace(go.Scatter(x=[None], y=[None], xaxis=f"x{xextra}", yaxis=ya,
                             showlegend=False, hoverinfo="skip"))
    xextra += 1

# translucent desorption bands across each column
for col, bands in enumerate([BANDS_COL1, BANDS_COL2, BANDS_COL3]):
    xa, _ = ax_names(col * NROW + 1)
    for lo, hi, colr in bands:
        shapes.append(dict(type="rect", xref=xa, yref="paper", x0=lo, x1=hi, y0=0, y1=1,
                           fillcolor=colr, opacity=0.5, line=dict(width=0), layer="above"))

annotations.append(dict(text="Relative Intensity", xref="paper", yref="paper",
                        x=-0.024, y=0.5, textangle=-90, showarrow=False,
                        xanchor="center", yanchor="middle", font=dict(size=17, family=FONT)))
annotations.append(dict(text="Temperature (K)", xref="paper", yref="paper",
                        x=0.5, y=-0.042, showarrow=False,
                        xanchor="center", yanchor="middle", font=dict(size=17, family=FONT)))

layout["shapes"] = shapes
layout["annotations"] = annotations
fig.update_layout(layout)
fig.write_html("out.html")
